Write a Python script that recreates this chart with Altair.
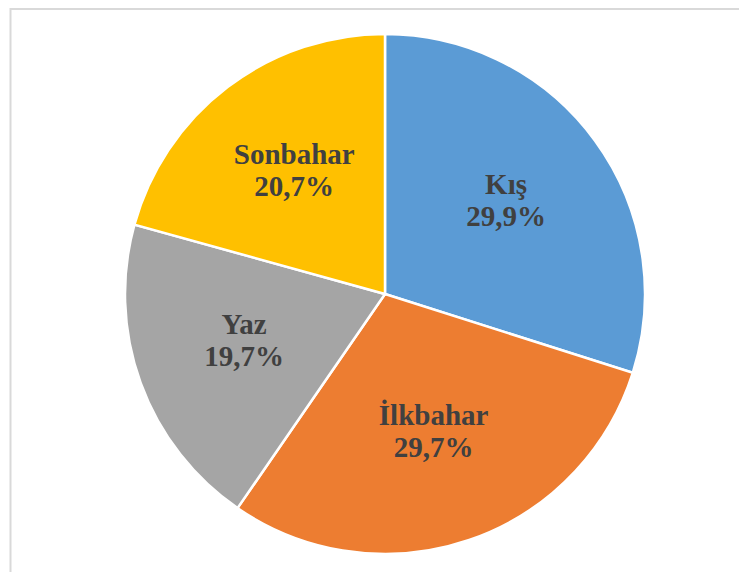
import altair as alt
import pandas as pd

seasons = ["Kış", "İlkbahar", "Yaz", "Sonbahar"]
shares = [29.9, 29.7, 19.7, 20.7]
pct_labels = ["29,9%", "29,7%", "19,7%", "20,7%"]
colors = ["#5B9BD5", "#ED7D31", "#A5A5A5", "#FFC000"]

df = pd.DataFrame({
    "season": seasons,
    "value": shares,
    "idx": list(range(len(seasons))),
    "label": [f"{s}\n{p}" for s, p in zip(seasons, pct_labels)],
})

CX, CY = 377, 286

base = alt.Chart(df).encode(
    theta=alt.Theta("value:Q", stack=True),
    order=alt.Order("idx:Q"),
)

arcs = base.mark_arc(outerRadius=260, stroke="white", strokeWidth=2.5).encode(
    x=alt.value(CX),
    y=alt.value(CY),
    color=alt.Color("season:N", scale=alt.Scale(domain=seasons, range=colors), legend=None),
)

labels = base.mark_text(
    radius=150,
    dy=-20,
    font="Liberation Serif",
    fontWeight="bold",
    fontSize=29,
    color="#404040",
    lineBreak="\n",
    lineHeight=32,
    align="center",
    baseline="middle",
).encode(
    x=alt.value(CX),
    y=alt.value(CY),
    text="label:N",
)

frame_df = pd.DataFrame({"a": [0]})
top_line = alt.Chart(frame_df).mark_rule(color="#d9d9d9", strokeWidth=2).encode(
    x=alt.value(2.5), x2=alt.value(740), y=alt.value(1)
)
left_line = alt.Chart(frame_df).mark_rule(color="#d9d9d9", strokeWidth=2).encode(
    x=alt.value(2.5), y=alt.value(0), y2=alt.value(575)
)

chart = alt.layer(top_line, left_line, arcs, labels).properties(
    width=731, height=564, padding=0, autosize=alt.AutoSizeParams(type="none")
).configure_view(stroke=None)

chart.save("out.html", embed_options={"renderer": "svg", "actions": False})
